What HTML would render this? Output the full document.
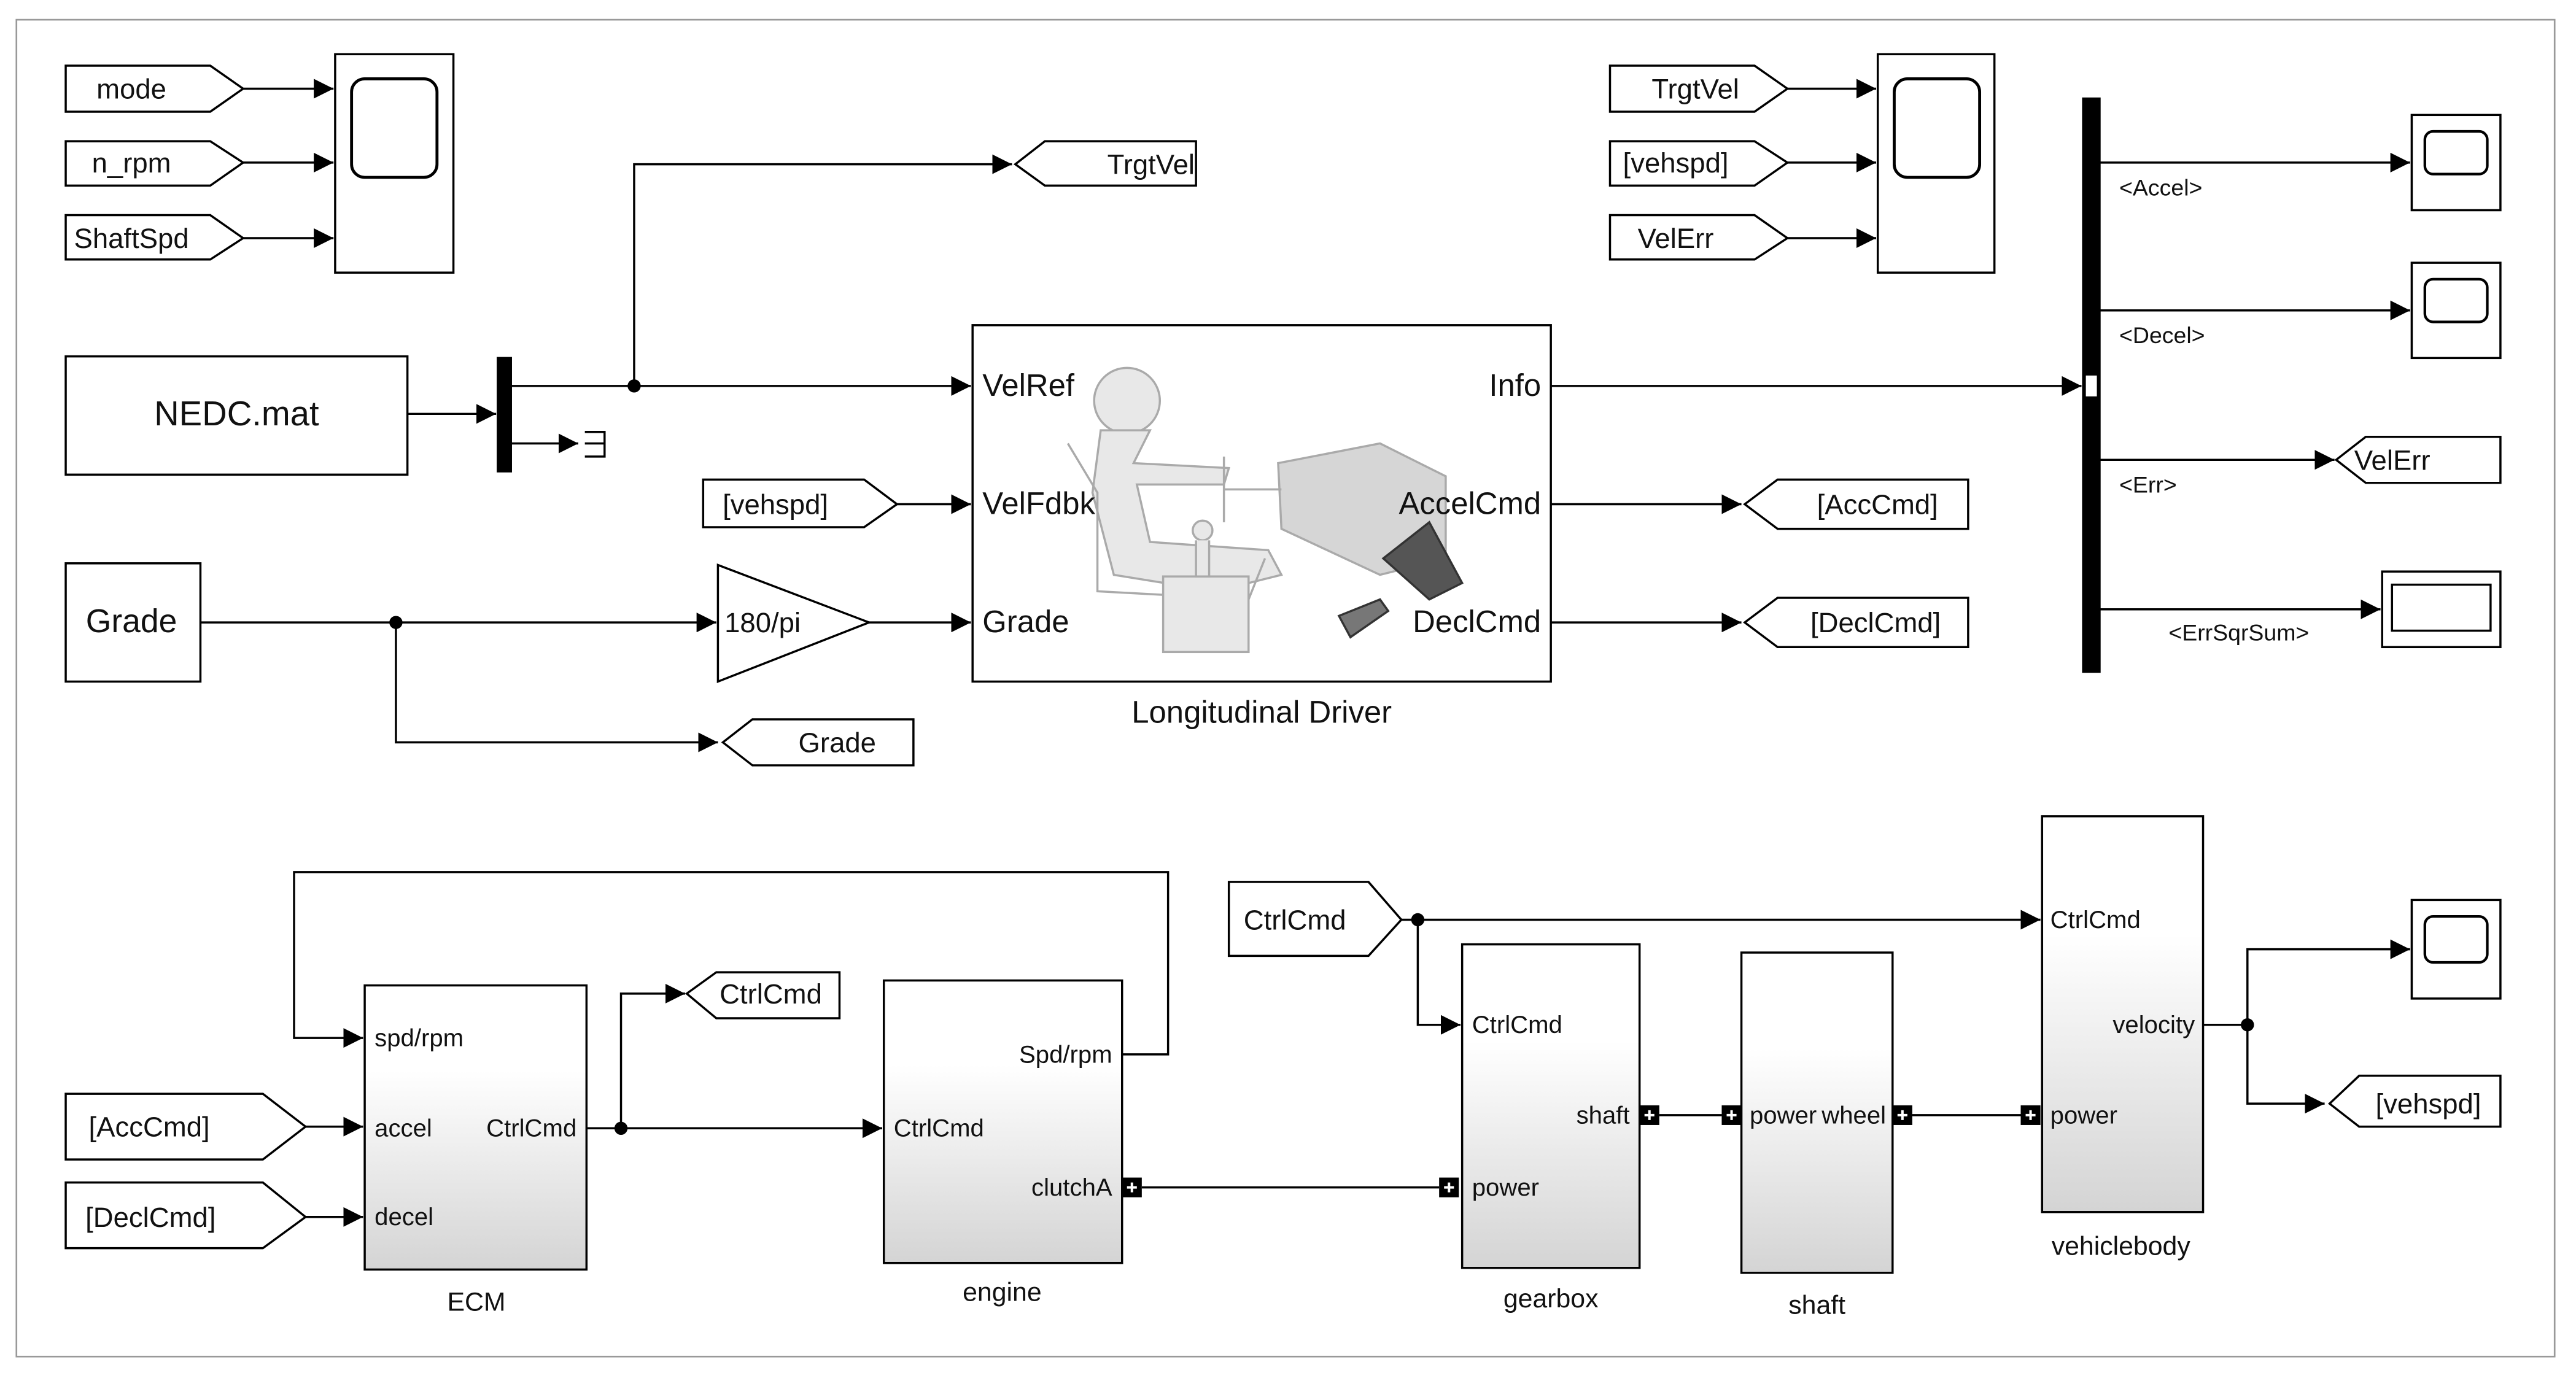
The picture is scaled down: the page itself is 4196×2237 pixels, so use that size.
<!DOCTYPE html>
<html><head><meta charset="utf-8"><style>
html,body{margin:0;padding:0;background:#fff}
svg{display:block}
text{font-family:"Liberation Sans",Arial,sans-serif;fill:#111}
</style></head><body>
<svg width="4196" height="2237" viewBox="0 0 1568 836" preserveAspectRatio="none" xmlns="http://www.w3.org/2000/svg">
<defs>
<marker id="a" viewBox="0 0 10 10" refX="10" refY="5" markerWidth="12" markerHeight="12" markerUnits="userSpaceOnUse" orient="auto"><path d="M0,0L10,5L0,10z" fill="#000"/></marker>
<linearGradient id="g" x1="0" y1="0" x2="0" y2="1"><stop offset="0" stop-color="#fff"/><stop offset="0.3" stop-color="#fff"/><stop offset="1" stop-color="#d4d4d4"/></linearGradient>
</defs>
<rect x="10" y="12" width="1545" height="814" fill="none" stroke="#999" stroke-width="1"/>
<g stroke="#000" stroke-width="1.3" fill="none">
<path d="M40,40H128L148,54L128,68H40Z" fill="#fff"/>
<path d="M40,86H128L148,99L128,113H40Z" fill="#fff"/>
<path d="M40,131H128L148,145L128,158H40Z" fill="#fff"/>
<path d="M148,54H203" marker-end="url(#a)"/>
<path d="M148,99H203" marker-end="url(#a)"/>
<path d="M148,145H203" marker-end="url(#a)"/>
<rect x="204" y="33" width="72" height="133" fill="#fff"/>
<rect x="214" y="48" width="52" height="60" rx="8" stroke-width="1.8"/>
<rect x="40" y="217" width="208" height="72" fill="#fff"/>
<path d="M248,252H302" marker-end="url(#a)"/>
<rect x="303" y="218" width="8" height="69" fill="#000"/>
<path d="M311,235H591" marker-end="url(#a)"/>
<path d="M311,270H352" marker-end="url(#a)"/>
<path d="M356,263H368V278H356M356,270H368"/>
<path d="M386,235V100H616" marker-end="url(#a)"/>
<path d="M618,100L636,86H728V113H636Z" fill="#fff"/>
<rect x="592" y="198" width="352" height="217" fill="#fff"/>
<g stroke="#aaa" fill="#e8e8e8">
<circle cx="686" cy="244" r="20"/>
<path d="M670,262L665,300L678,350L740,360L780,350L772,335L700,330L692,295L745,295L748,285L690,282L700,262Z"/>
<path d="M650,270L668,300L668,360L760,365L770,340" fill="none"/>
<rect x="708" y="351" width="52" height="46"/>
<circle cx="732" cy="323" r="6"/>
<path d="M728,329V351H736V329"/>
<path d="M778,282L840,270L880,290L880,340L840,350L780,322Z" fill="#d6d6d6"/>
<path d="M745,278V318M745,298H780" fill="none"/>
<path d="M842,340L870,318L890,355L870,365Z" fill="#555" stroke="#333"/>
<path d="M815,375L840,365L845,372L822,388Z" fill="#777" stroke="#333"/>
</g>
<path d="M546,307H591" marker-end="url(#a)"/>
<path d="M428,292H526L546,307L526,321H428Z" fill="#fff"/>
<rect x="40" y="343" width="82" height="72" fill="#fff"/>
<path d="M122,379H436" marker-end="url(#a)"/>
<path d="M241,379V452H437" marker-end="url(#a)"/>
<path d="M440,452L458,438H556V466H458Z" fill="#fff"/>
<path d="M437,344L529,379L437,415Z" fill="#fff"/>
<path d="M529,379H591" marker-end="url(#a)"/>
<path d="M944,235H1267" marker-end="url(#a)"/>
<path d="M944,307H1060" marker-end="url(#a)"/>
<path d="M944,379H1060" marker-end="url(#a)"/>
<path d="M1062,307L1082,292H1198V322H1082Z" fill="#fff"/>
<path d="M1062,379L1082,364H1198V394H1082Z" fill="#fff"/>
<path d="M980,40H1068L1088,54L1068,68H980Z" fill="#fff"/>
<path d="M980,86H1068L1088,99L1068,113H980Z" fill="#fff"/>
<path d="M980,131H1068L1088,145L1068,158H980Z" fill="#fff"/>
<path d="M1088,54H1142" marker-end="url(#a)"/>
<path d="M1088,99H1142" marker-end="url(#a)"/>
<path d="M1088,145H1142" marker-end="url(#a)"/>
<rect x="1143" y="33" width="71" height="133" fill="#fff"/>
<rect x="1153" y="48" width="52" height="60" rx="8" stroke-width="1.8"/>
<rect x="1268" y="60" width="10" height="349" fill="#000"/>
<rect x="1269" y="228" width="8" height="14" fill="#fff" stroke="#000"/>
<path d="M1278,99H1467" marker-end="url(#a)"/>
<path d="M1278,189H1467" marker-end="url(#a)"/>
<path d="M1278,280H1421" marker-end="url(#a)"/>
<path d="M1278,371H1449" marker-end="url(#a)"/>
<rect x="1468" y="70" width="54" height="58" fill="#fff"/>
<rect x="1476" y="80" width="38" height="26" rx="5" stroke-width="1.6"/>
<rect x="1468" y="160" width="54" height="58" fill="#fff"/>
<rect x="1476" y="170" width="38" height="26" rx="5" stroke-width="1.6"/>
<path d="M1422,280L1440,266H1522V294H1440Z" fill="#fff"/>
<rect x="1450" y="348" width="72" height="46" fill="#fff"/>
<rect x="1456" y="356" width="60" height="28"/>
<path d="M683,642H711V531H179V632H221" marker-end="url(#a)"/>
<rect x="222" y="600" width="135" height="173" fill="url(#g)"/>
<path d="M40,666H160L186,686L160,706H40Z" fill="#fff"/>
<path d="M40,720H160L186,741L160,760H40Z" fill="#fff"/>
<path d="M186,686H221" marker-end="url(#a)"/>
<path d="M186,741H221" marker-end="url(#a)"/>
<path d="M357,687H537" marker-end="url(#a)"/>
<path d="M378,687V605H417" marker-end="url(#a)"/>
<path d="M418,605L436,592H511V620H436Z" fill="#fff"/>
<rect x="538" y="597" width="145" height="172" fill="url(#g)"/>
<path d="M695,723H876"/>
<path d="M853,560H1242" marker-end="url(#a)"/>
<path d="M748,537H833L853,560L833,582H748Z" fill="#fff"/>
<path d="M863,560V624H889" marker-end="url(#a)"/>
<rect x="890" y="575" width="108" height="197" fill="url(#g)"/>
<path d="M1010,679H1048"/>
<rect x="1060" y="580" width="92" height="195" fill="url(#g)"/>
<path d="M1164,679H1230"/>
<rect x="1243" y="497" width="98" height="241" fill="url(#g)"/>
<path d="M1341,624H1368V578H1467" marker-end="url(#a)"/>
<path d="M1368,624V672H1415" marker-end="url(#a)"/>
<rect x="1468" y="548" width="54" height="60" fill="#fff"/>
<rect x="1476" y="558" width="38" height="28" rx="5" stroke-width="1.6"/>
<path d="M1418,672L1436,655H1522V686H1436Z" fill="#fff"/>
</g>
<g fill="#000">
<circle cx="386" cy="235" r="4"/><circle cx="241" cy="379" r="4"/>
<circle cx="378" cy="687" r="4"/><circle cx="863" cy="560" r="4"/><circle cx="1368" cy="624" r="4"/>
<rect x="683" y="717" width="12" height="12"/><rect x="876" y="717" width="12" height="12"/>
<rect x="998" y="673" width="12" height="12"/><rect x="1048" y="673" width="12" height="12"/>
<rect x="1152" y="673" width="12" height="12"/><rect x="1230" y="673" width="12" height="12"/>
</g>
<g fill="#fff"><path d="M686,723h6M689,720v6M879,723h6M882,720v6M1001,679h6M1004,676v6M1051,679h6M1054,676v6M1155,679h6M1158,676v6M1233,679h6M1236,676v6" stroke="#fff" stroke-width="1.5"/></g>
<g font-size="17">
<text x="80" y="60" text-anchor="middle">mode</text>
<text x="80" y="105" text-anchor="middle">n_rpm</text>
<text x="80" y="151" text-anchor="middle">ShaftSpd</text>
<text x="144" y="259" text-anchor="middle" font-size="21">NEDC.mat</text>
<text x="674" y="106">TrgtVel</text>
<text x="472" y="313" text-anchor="middle">[vehspd]</text>
<text x="80" y="385" text-anchor="middle" font-size="20">Grade</text>
<text x="441" y="385">180/pi</text>
<text x="486" y="458">Grade</text>
<text x="1106" y="313">[AccCmd]</text>
<text x="1102" y="385">[DeclCmd]</text>
<text x="1032" y="60" text-anchor="middle">TrgtVel</text>
<text x="1020" y="105" text-anchor="middle">[vehspd]</text>
<text x="1020" y="151" text-anchor="middle">VelErr</text>
<text x="1433" y="286">VelErr</text>
<text x="1446" y="678">[vehspd]</text>
<text x="54" y="692">[AccCmd]</text>
<text x="52" y="747">[DeclCmd]</text>
<text x="438" y="611">CtrlCmd</text>
<text x="757" y="566">CtrlCmd</text>
</g>
<g font-size="19">
<text x="598" y="241">VelRef</text>
<text x="598" y="313">VelFdbk</text>
<text x="598" y="385">Grade</text>
<text x="938" y="241" text-anchor="end">Info</text>
<text x="938" y="313" text-anchor="end">AccelCmd</text>
<text x="938" y="385" text-anchor="end">DeclCmd</text>
<text x="768" y="440" text-anchor="middle">Longitudinal Driver</text>
</g>
<g font-size="14">
<text x="1290" y="119">&lt;Accel&gt;</text>
<text x="1290" y="209">&lt;Decel&gt;</text>
<text x="1290" y="300">&lt;Err&gt;</text>
<text x="1320" y="390">&lt;ErrSqrSum&gt;</text>
</g>
<g font-size="15">
<text x="228" y="637">spd/rpm</text>
<text x="228" y="692">accel</text>
<text x="228" y="746">decel</text>
<text x="351" y="692" text-anchor="end">CtrlCmd</text>
<text x="290" y="798" text-anchor="middle" font-size="16">ECM</text>
<text x="677" y="647" text-anchor="end">Spd/rpm</text>
<text x="544" y="692">CtrlCmd</text>
<text x="677" y="728" text-anchor="end">clutchA</text>
<text x="610" y="792" text-anchor="middle" font-size="16">engine</text>
<text x="896" y="629">CtrlCmd</text>
<text x="992" y="684" text-anchor="end">shaft</text>
<text x="896" y="728">power</text>
<text x="944" y="796" text-anchor="middle" font-size="16">gearbox</text>
<text x="1065" y="684">power</text>
<text x="1148" y="684" text-anchor="end">wheel</text>
<text x="1106" y="800" text-anchor="middle" font-size="16">shaft</text>
<text x="1248" y="565">CtrlCmd</text>
<text x="1336" y="629" text-anchor="end">velocity</text>
<text x="1248" y="684">power</text>
<text x="1291" y="764" text-anchor="middle" font-size="16">vehiclebody</text>
</g>
</svg>
</body></html>
